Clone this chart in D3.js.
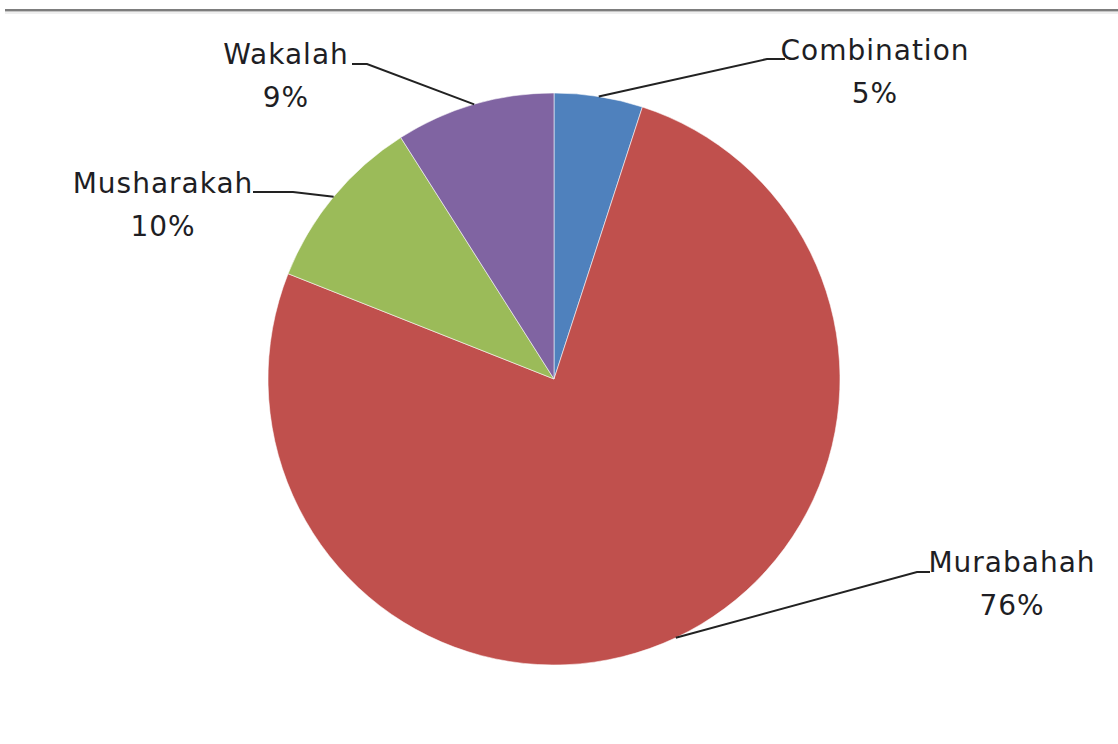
<!DOCTYPE html>
<html>
<head>
<meta charset="utf-8">
<script src="https://cdn.jsdelivr.net/npm/d3@7"></script>
<style>
  body { margin: 0; background: #fff; }
  text { font-family: 'DejaVu Sans', Verdana, sans-serif; font-size: 28px; letter-spacing: 1px; fill: #1e1e24; }
</style>
</head>
<body>
<div id="chart"></div>
<script>
// data
let categories = ['Combination', 'Murabahah', 'Musharakah', 'Wakalah']
let shares = [5, 76, 10, 9]
let colors = ['#4f81bd', '#c0504d', '#9bbb59', '#8064a2']

// label layout: text centre, first baseline, elbow of the leader line
let labelLayout = [
  { x: 875, y: 60, elbowX: 767, elbowY: 59, endX: 785 },
  { x: 1012, y: 572, elbowX: 917, elbowY: 572, endX: 930 },
  { x: 163, y: 193, elbowX: 293, elbowY: 192, endX: 253 },
  { x: 286, y: 64, elbowX: 367, elbowY: 64, endX: 352 }
]

let width = 1118
let height = 744
let cx = 554
let cy = 379
let radius = 286

let svg = d3
  .select('#chart')
  .append('svg')
  .attr('width', width)
  .attr('height', height)

// top rule
svg.append('rect').attr('x', 5).attr('y', 9).attr('width', width - 5).attr('height', 2).attr('fill', '#7d7d7d')
svg.append('rect').attr('x', 5).attr('y', 11).attr('width', width - 5).attr('height', 1).attr('fill', '#c4c4c4')
svg.append('rect').attr('x', 5).attr('y', 12).attr('width', width - 5).attr('height', 2).attr('fill', '#efefef')

let datapoints = categories.map((c, i) => ({ name: c, value: shares[i], color: colors[i], layout: labelLayout[i] }))

let pie = d3.pie().sort(null).value(d => d.value)
let arc = d3.arc().innerRadius(0).outerRadius(radius)
let edgeArc = d3.arc().innerRadius(radius).outerRadius(radius)

let g = svg.append('g').attr('transform', 'translate(' + cx + ',' + cy + ')')

let slices = pie(datapoints)

g.selectAll('.slice')
  .data(slices)
  .enter()
  .append('path')
  .attr('class', 'slice')
  .attr('d', arc)
  .attr('fill', d => d.data.color)
  .attr('stroke', 'rgba(255,255,255,0.55)')
  .attr('stroke-width', 1)

// leader lines
svg.selectAll('.leader')
  .data(slices)
  .enter()
  .append('polyline')
  .attr('class', 'leader')
  .attr('fill', 'none')
  .attr('stroke', '#222')
  .attr('stroke-width', 2)
  .attr('points', d => {
    let p = edgeArc.centroid(d)
    let l = d.data.layout
    return [[p[0] + cx, p[1] + cy], [l.elbowX, l.elbowY], [l.endX, l.elbowY]].join(' ')
  })

// labels
let labels = svg.selectAll('.label')
  .data(slices)
  .enter()
  .append('text')
  .attr('class', 'label')
  .attr('text-anchor', 'middle')

labels.append('tspan')
  .attr('x', d => d.data.layout.x)
  .attr('y', d => d.data.layout.y)
  .text(d => d.data.name)

labels.append('tspan')
  .attr('x', d => d.data.layout.x)
  .attr('y', d => d.data.layout.y + 43)
  .text(d => d.data.value + '%')
</script>
</body>
</html>
